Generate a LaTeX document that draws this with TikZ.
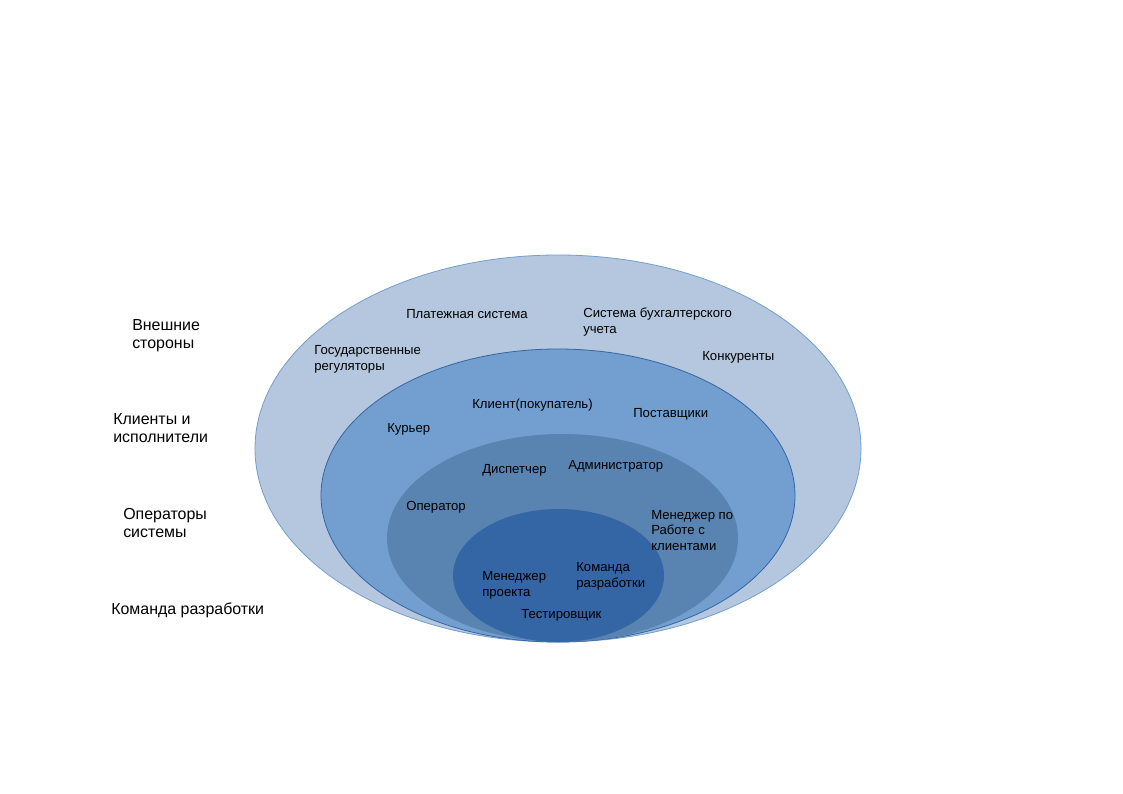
\documentclass[tikz,border=0pt]{standalone}
\usepackage{fontspec}
\setmainfont{Liberation Sans}
\usepackage{tikz}
\definecolor{ringout}{RGB}{180,199,222}
\definecolor{ringtwo}{RGB}{114,159,207}
\definecolor{ringthree}{RGB}{89,131,176}
\definecolor{ringin}{RGB}{52,101,164}
\definecolor{edgeout}{RGB}{114,159,207}
\definecolor{edgetwo}{RGB}{52,101,164}
\tikzset{
  ring/.style={line width=0.6pt},
  role/.style={anchor=base west, inner sep=0pt, align=left,
    font=\fontsize{9.9}{11.3}\selectfont, text=black},
  level/.style={anchor=base west, inner sep=0pt, align=left,
    font=\fontsize{12}{13.5}\selectfont, text=black}
}
\begin{document}
\begin{tikzpicture}[x=0.026447cm, y=-0.026447cm]
  \useasboundingbox (0,0) rectangle (1123,794);

  % Rings
  \draw[ring, draw=edgeout, fill=ringout] (558,448.5) ellipse [x radius=303, y radius=193.5];
  \draw[ring, draw=edgetwo, fill=ringtwo] (558,495.5) ellipse [x radius=237, y radius=146.5];
  \fill[ringthree] (562.5,538) ellipse [x radius=175.5, y radius=104];
  \fill[ringin] (558.5,575.5) ellipse [x radius=105.5, y radius=66.5];

  % Levels (base = last line)
  \node[level] (lvlext) at (132,348) {Внешние\\стороны};
  \node[level] (lvlcli) at (113,442) {Клиенты и\\исполнители};
  \node[level] (lvlops) at (123,537) {Операторы\\системы};
  \node[level] (lvldev) at (111,614) {Команда разработки};

  % Outer ring
  \node[role] (pay) at (406,318) {Платежная система};
  \node[role] (acc) at (583,333) {Система бухгалтерского\\учета};
  \node[role] (gov) at (314,370) {Государственные\\регуляторы};
  \node[role] (comp) at (702,360) {Конкуренты};

  % Second ring
  \node[role] (client) at (472,408) {Клиент(покупатель)};
  \node[role] (supp) at (633,417) {Поставщики};
  \node[role] (cour) at (387,432) {Курьер};

  % Third ring
  \node[role] (disp) at (482,473) {Диспетчер};
  \node[role] (admin) at (568,469) {Администратор};
  \node[role] (oper) at (406,510) {Оператор};
  \node[role] (cman) at (651,550) {Менеджер по\\Работе с\\клиентами};

  % Inner ring
  \node[role] (pm) at (482,596) {Менеджер\\проекта};
  \node[role] (team) at (576,587) {Команда\\разработки};
  \node[role] (qa) at (521,618) {Тестировщик};
\end{tikzpicture}
\end{document}
